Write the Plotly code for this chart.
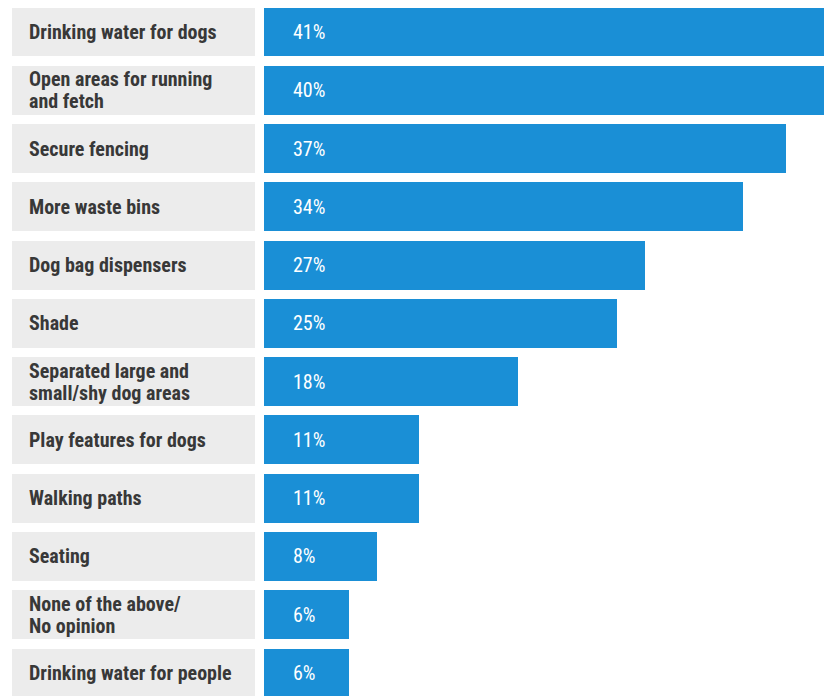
import plotly.graph_objects as go

categories = [
    "Drinking water for dogs",
    "Open areas for running<br>and fetch",
    "Secure fencing",
    "More waste bins",
    "Dog bag dispensers",
    "Shade",
    "Separated large and<br>small/shy dog areas",
    "Play features for dogs",
    "Walking paths",
    "Seating",
    "None of the above/<br>No opinion",
    "Drinking water for people",
]
values = [41, 40, 37, 34, 27, 25, 18, 11, 11, 8, 6, 6]
value_labels = [f"{v}%" for v in values]

W, H = 824, 688
BAR_COLOR = "#1a8fd6"
BOX_COLOR = "#ececec"
LABEL_COLOR = "#383838"
FONT = "Roboto Condensed, Open Sans Condensed, sans-serif"

y_idx = list(range(len(categories)))
BAR_W = 0.84

fig = go.Figure()

# gray label boxes on a hidden pixel-scaled axis
fig.add_trace(go.Bar(
    y=y_idx, x=[243] * len(categories), base=4, orientation="h",
    marker=dict(color=BOX_COLOR, line=dict(width=0)), width=BAR_W,
    xaxis="x2", yaxis="y", hoverinfo="skip", showlegend=False,
))

# value bars
fig.add_trace(go.Bar(
    y=y_idx, x=values, orientation="h",
    marker=dict(color=BAR_COLOR, line=dict(width=0)), width=BAR_W,
    xaxis="x", yaxis="y", showlegend=False,
))

annotations = []
LINE_GAP = 22
for i, (c, lab) in enumerate(zip(categories, value_labels)):
    lines = c.split("<br>")
    n = len(lines)
    for k, ln in enumerate(lines):
        shift = ((n - 1) / 2 - k) * LINE_GAP
        annotations.append(dict(
            x=19, xref="x2", y=i, yref="y", yshift=shift, text=f"<b>{ln}</b>",
            xanchor="left", yanchor="middle", align="left", showarrow=False,
            font=dict(family=FONT, size=20, color=LABEL_COLOR),
        ))
    annotations.append(dict(
        x=0, xref="x", y=i, yref="y", text=lab, xshift=27,
        xanchor="left", yanchor="middle", align="left", showarrow=False,
        font=dict(family=FONT, size=20, color="white"),
    ))

px_per_pct = 14.1
x0_px = 256
row_px = 58.27
first_center = 24
fig.update_layout(
    width=W, height=H,
    margin=dict(l=0, r=0, t=0, b=0),
    paper_bgcolor="white", plot_bgcolor="white",
    bargap=0,
    barmode="overlay",
    xaxis=dict(range=[-x0_px / px_per_pct, (W - x0_px) / px_per_pct],
               visible=False, domain=[0, 1]),
    xaxis2=dict(range=[0, W], visible=False, overlaying="x", domain=[0, 1]),
    yaxis=dict(range=[(H - first_center) / row_px, -first_center / row_px], visible=False),
    annotations=annotations,
)

fig.write_html("out.html")
